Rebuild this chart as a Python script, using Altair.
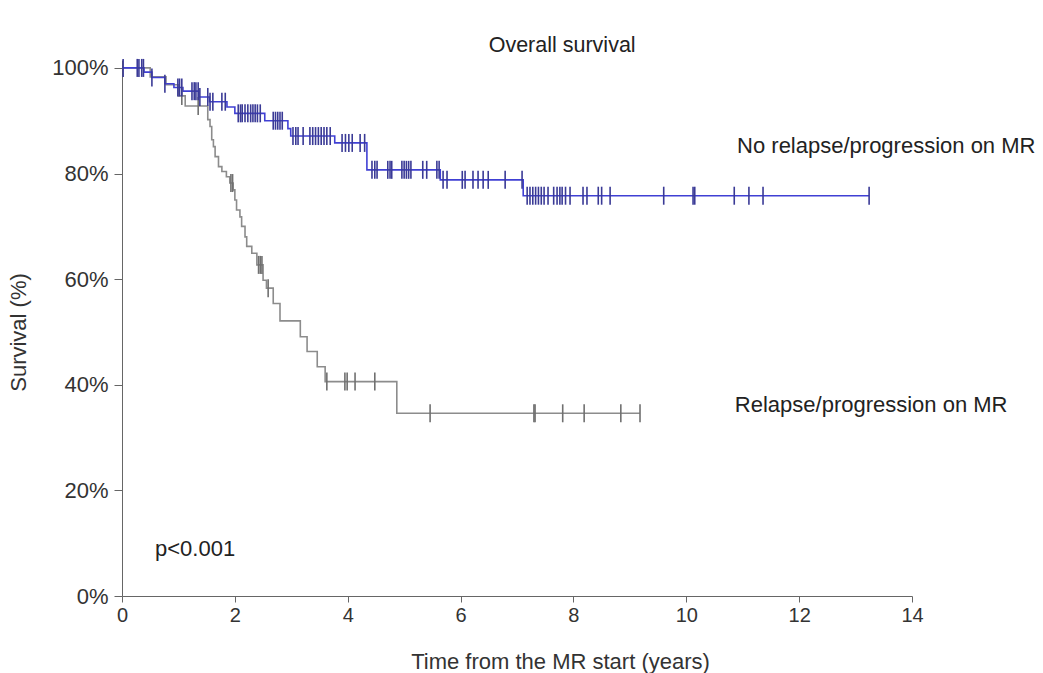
import altair as alt
import pandas as pd

# ---- Kaplan-Meier step data (time in years, survival %) ----
blue_t = [0, 0.39, 0.53, 0.76, 0.92, 1.08, 1.36, 1.55, 1.86, 2.0, 2.53, 2.94, 2.99, 3.77, 4.34, 5.64, 7.11, 13.24]
blue_s = [100, 99.2, 98.2, 97.0, 96.3, 95.6, 94.5, 93.6, 92.6, 91.4, 90.0, 88.5, 87.1, 85.8, 80.7, 78.8, 75.8, 75.8]

grey_t = [0, 0.5, 0.78, 1.0, 1.12, 1.52, 1.56, 1.59, 1.62, 1.65, 1.71, 1.77, 1.85, 1.91, 1.97, 2.0, 2.03,
          2.09, 2.12, 2.18, 2.21, 2.30, 2.39, 2.50, 2.56, 2.68, 2.80, 3.16, 3.28, 3.46, 3.6, 4.87, 9.18]
grey_s = [100, 98.3, 96.8, 94.7, 92.8, 90.2, 88.9, 86.4, 85.1, 83.2, 81.3, 80.4, 79.4, 78.2, 76.9, 75.0, 73.1,
          71.8, 70.0, 68.0, 66.2, 64.9, 62.7, 59.8, 58.3, 55.4, 52.1, 49.1, 46.3, 43.4, 40.6, 34.6, 34.6]

# ---- censoring times ----
blue_cens = [0.02, 0.27, 0.3, 0.35, 0.38, 0.53, 0.76, 0.99, 1.02, 1.06, 1.24, 1.28, 1.31, 1.35, 1.38, 1.52, 1.56,
             1.61, 1.77, 1.83, 2.06, 2.1, 2.13, 2.18, 2.23, 2.28, 2.32, 2.36, 2.4, 2.45, 2.68, 2.72, 2.76, 2.8,
             2.84, 3.03, 3.08, 3.12, 3.21, 3.33, 3.38, 3.43, 3.48, 3.53, 3.58, 3.63, 3.69, 3.9, 3.96, 4.02, 4.08,
             4.22, 4.3, 4.43, 4.48, 4.52, 4.71, 4.75, 4.78, 4.96, 5.0, 5.04, 5.08, 5.12, 5.33, 5.4, 5.58, 5.62,
             5.69, 5.76, 6.03, 6.08, 6.22, 6.31, 6.4, 6.49, 6.79, 7.09, 7.18, 7.23, 7.28, 7.33, 7.38, 7.43, 7.48,
             7.55, 7.65, 7.71, 7.76, 7.8, 7.86, 7.94, 8.17, 8.24, 8.44, 8.5, 8.65, 9.6, 10.12, 10.15, 10.85,
             11.11, 11.36, 13.24]
grey_cens = [1.06, 1.35, 1.93, 1.96, 2.42, 2.45, 2.48, 2.59, 3.63, 3.95, 3.99, 4.13, 4.48, 5.46, 7.3, 7.32,
             7.81, 8.19, 8.84, 9.18]

x_ticks = [0, 2, 4, 6, 8, 10, 12, 14]
y_ticks = [0, 20, 40, 60, 80, 100]

# annotations (position in data units)
ann_labels = ["Overall survival", "No relapse/progression on MR", "Relapse/progression on MR", "p<0.001"]
ann_t = [7.8, 10.9, 10.86, 0.585]
ann_s = [104.2, 85.2, 36.2, 8.9]
ann_align = ["center", "left", "left", "left"]


def surv_at(ts, ss, t):
    val = ss[0]
    for ti, si in zip(ts, ss):
        if ti <= t:
            val = si
        else:
            break
    return val


FONT = "Liberation Sans"
BLUE = "#4040d4"
BLUE_T = "#3a3a96"
GREY = "#8c8c8c"
GREY_T = "#707070"

blue_df = pd.DataFrame({"t": blue_t, "s": blue_s})
grey_df = pd.DataFrame({"t": grey_t, "s": grey_s})
blue_c = pd.DataFrame({"t": blue_cens, "s": [surv_at(blue_t, blue_s, t) for t in blue_cens]})
grey_c = pd.DataFrame({"t": grey_cens, "s": [surv_at(grey_t, grey_s, t) for t in grey_cens]})

xs = alt.Scale(domain=[0, 14], nice=False)
ys = alt.Scale(domain=[0, 101.5], nice=False)

x_enc = alt.X("t:Q", scale=xs, axis=alt.Axis(
    values=x_ticks, format="d", title="Time from the MR start (years)", grid=False,
    labelFont=FONT, labelFontSize=20, labelColor="#333333", labelPadding=3,
    tickSize=6, tickColor="#666666", domainColor="#666666", labelFlush=False,
    titleFont=FONT, titleFontSize=22, titleFontWeight="normal", titleColor="#333333",
    titleX=438, titleY=65, titleBaseline="middle", titleAlign="center"))
y_enc = alt.Y("s:Q", scale=ys, axis=alt.Axis(
    values=y_ticks, labelExpr="datum.value + '%'", title="Survival (%)", grid=False,
    labelFont=FONT, labelFontSize=22, labelColor="#333333", labelPadding=6,
    tickSize=8, tickColor="#666666", domainColor="#666666",
    titleFont=FONT, titleFontSize=22, titleFontWeight="normal", titleColor="#333333",
    titleX=-104, titleY=272, titleAngle=-90, titleBaseline="middle", titleAlign="center"))

grey_line = alt.Chart(grey_df).mark_line(interpolate="step-after", color=GREY, strokeWidth=1.6).encode(
    x=x_enc, y=y_enc)
blue_line = alt.Chart(blue_df).mark_line(interpolate="step-after", color=BLUE, strokeWidth=1.6).encode(
    x="t:Q", y="s:Q")
grey_tick = alt.Chart(grey_c).mark_tick(orient="vertical", color=GREY_T, size=18, thickness=1.6, opacity=1).encode(
    x="t:Q", y="s:Q")
blue_tick = alt.Chart(blue_c).mark_tick(orient="vertical", color=BLUE_T, size=18, thickness=1.6, opacity=1).encode(
    x="t:Q", y="s:Q")

ann_df = pd.DataFrame({"t": ann_t, "s": ann_s, "label": ann_labels, "align": ann_align})
ann_center = alt.Chart(ann_df[ann_df["align"] == "center"]).mark_text(
    align="center", baseline="middle", font=FONT, fontSize=21.5, color="#222222").encode(
    x="t:Q", y="s:Q", text="label:N")
ann_left = alt.Chart(ann_df[ann_df["align"] == "left"]).mark_text(
    align="left", baseline="middle", font=FONT, fontSize=22, color="#222222").encode(
    x="t:Q", y="s:Q", text="label:N")

chart = alt.layer(grey_line, blue_line, grey_tick, blue_tick, ann_center, ann_left).properties(
    width=790, height=536,
    autosize=alt.AutoSizeParams(type="none"),
    padding={"left": 122, "top": 60, "right": 131, "bottom": 77},
    background="white",
).configure_view(strokeWidth=0)

chart.save("out.html", embed_options={"renderer": "svg", "actions": False})
